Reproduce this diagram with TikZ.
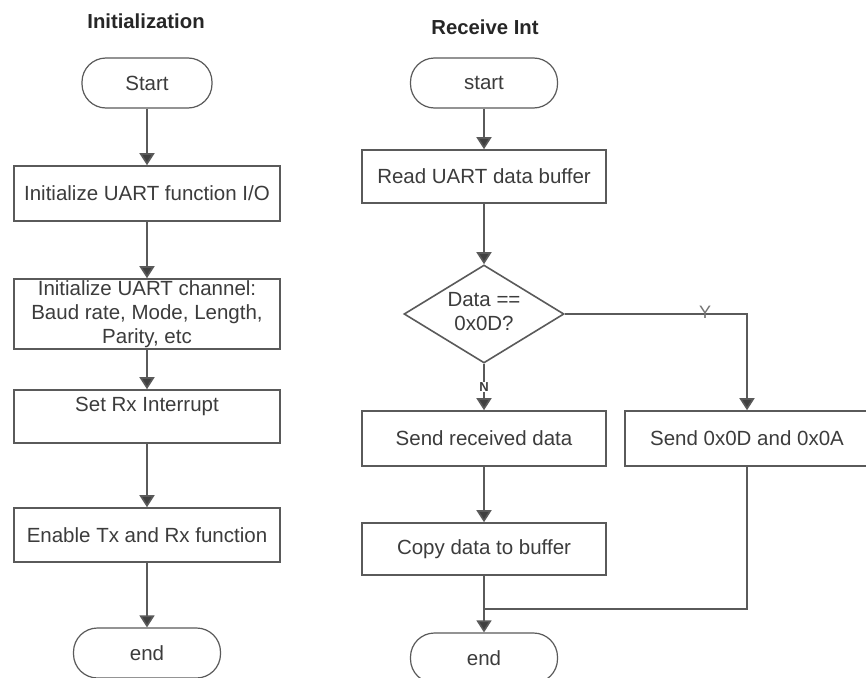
\documentclass[tikz,border=0pt]{standalone}
\usepackage{fontspec}
\setmainfont{Liberation Sans}
\usetikzlibrary{arrows.meta,shapes.geometric}
\definecolor{ln}{HTML}{5A5A5A}
\definecolor{tx}{HTML}{3C3C3C}
\begin{document}
\begin{tikzpicture}[x=1pt,y=-1pt,
  font=\fontsize{20.5}{24}\selectfont,
  every node/.style={text=tx},
  box/.style={draw=ln,line width=1.6pt,rectangle,inner sep=0pt,align=center},
  term/.style={draw=ln,line width=1.2pt,rectangle,rounded corners=24pt,minimum width=147pt,minimum height=50pt,inner sep=0pt},
  ttl/.style={font=\fontsize{20.3}{24}\selectfont\bfseries,text=black!85},
  flow/.style={draw=ln,line width=1.6pt,-{Triangle[length=12pt,width=15pt,fill=black!75]}},
  plain/.style={draw=ln,line width=1.6pt}]
\useasboundingbox[fill=white] (0,0) rectangle (866,677);
% left column
\node[ttl] (tl) at (146,21) {Initialization};
\node[term,minimum width=130pt] (sL) at (147,83) {Start};
\node[box,minimum width=266pt,minimum height=55pt] (b1) at (147,193.5) {Initialize UART function I/O};
\node[box,minimum width=266pt,minimum height=70pt] (b2) at (147,314) {Initialize UART channel:\\Baud rate, Mode, Length,\\Parity, etc};
\node[box,minimum width=266pt,minimum height=53pt] (b3) at (147,416.5) {Set Rx Interrupt\\\mbox{}};
\node[box,minimum width=266pt,minimum height=54pt] (b4) at (147,535) {Enable Tx and Rx function};
\node[term] (eL) at (147,653) {end};
\draw[flow] (sL) -- (b1);
\draw[flow] (b1) -- (b2);
\draw[flow] (b2) -- (b3);
\draw[flow] (b3) -- (b4);
\draw[flow] (b4) -- (eL);
% right column
\node[ttl] (tr) at (485,27) {Receive Int};
\node[term] (sR) at (484,83) {start};
\node[box,minimum width=244pt,minimum height=53pt] (r1) at (484,176.5) {Read UART data buffer};
\node[draw=ln,line width=1.6pt,diamond,minimum width=160pt,minimum height=98pt,inner sep=0pt] (dc) at (484,314) {};
\node[align=center] (dt) at (484,312) {Data ==\\0x0D?};
\node[box,minimum width=244pt,minimum height=55pt] (r2) at (484,438.5) {Send received data};
\node[box,minimum width=244pt,minimum height=55pt] (r3) at (747,438.5) {Send 0x0D and 0x0A};
\node[box,minimum width=244pt,minimum height=52pt] (r4) at (484,549) {Copy data to buffer};
\node[term] (eR) at (484,658) {end};
\coordinate (yc) at (747,314);
\coordinate (mc) at (747,609);
\coordinate (jc) at (484,609);
\draw[flow] (sR) -- (r1);
\draw[flow] (r1) -- (dc);
\draw[flow] (dc) -- node[fill=white,inner sep=1pt,font=\fontsize{13}{15}\selectfont\bfseries] (nl) {N} (r2);
\draw[flow] (dc.east) -- (yc) -- (r3.north);
\node[font=\fontsize{18}{20}\selectfont,text=black!55] (yl) at (705,312) {Y};
\draw[flow] (r2) -- (r4);
\draw[flow] (r4) -- (eR);
\draw[plain] (r3.south) -- (mc) -- (jc);
\end{tikzpicture}
\end{document}
